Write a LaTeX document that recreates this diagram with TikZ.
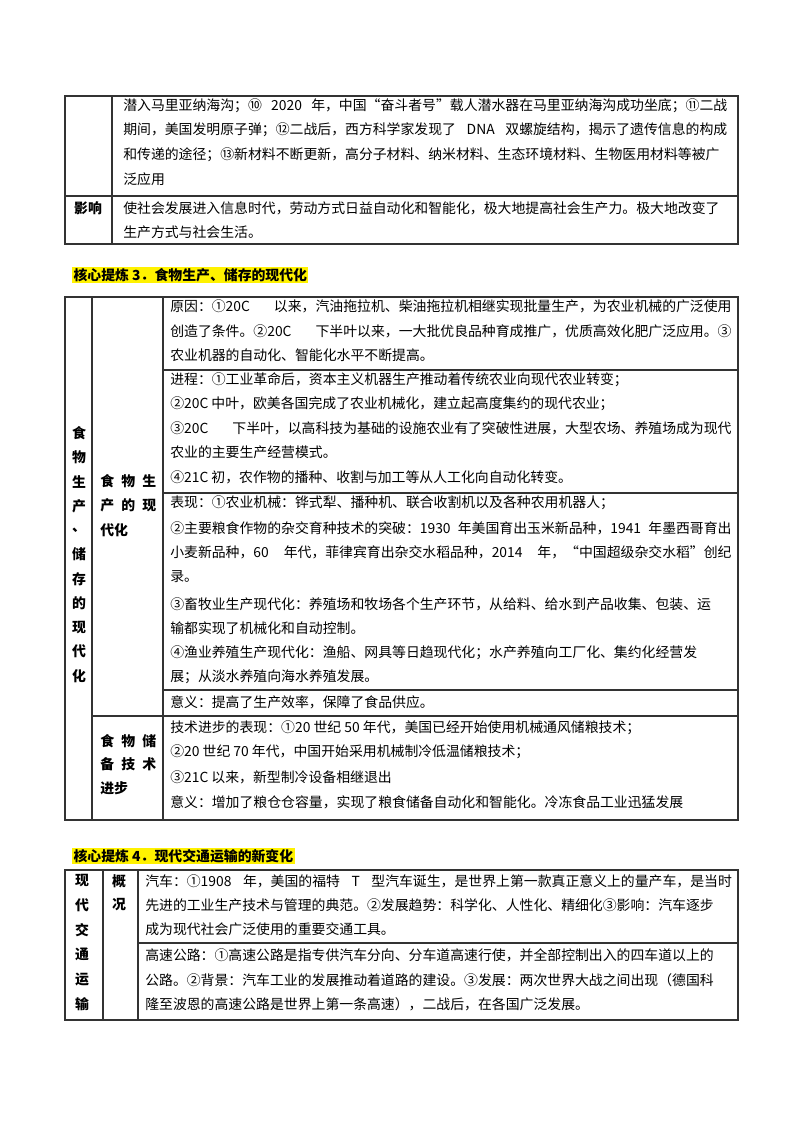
\documentclass[tikz,border=0pt]{standalone}
\usepackage{fontspec}
\setmainfont{Noto Sans CJK SC}
\XeTeXlinebreaklocale "zh"
\XeTeXlinebreakskip=0pt plus 1pt
\hbadness=10000
\newcounter{tn}
\newcommand\Ln[3]{\stepcounter{tn}\node[txt] (t\thetn) at (#1,#2) {#3};}
\newcommand\Jw[4]{\stepcounter{tn}\node[txt] (t\thetn) at (#1,#2) {\hbox to #3{#4}};}
\newcommand\Bc[3]{\stepcounter{tn}\node[bc] (t\thetn) at (#1,#2) {#3};}
\begin{document}
\begin{tikzpicture}[x=0.75pt,y=-0.75pt,
  txt/.style={anchor=west,inner sep=0pt,font=\fontsize{10.4}{12}\selectfont},
  bc/.style={inner sep=0pt,font=\fontsize{10.4}{12}\selectfont\bfseries},
  rule/.style={line width=0.8pt,draw=black!80},
  hl/.style={fill=yellow,inner sep=1pt,anchor=west,font=\fontsize{10.4}{12}\selectfont\bfseries}]
\useasboundingbox[fill=white] (0,0) rectangle (800,1132);
% ---- table 1
\draw[rule] (65,96) rectangle (738,244);
\draw[rule] (112,96) -- (112,244);
\draw[rule] (65,196) -- (738,196);
\Jw{123}{106}{453pt}{潜入马里亚纳海沟；⑩ 2020 年，中国“奋斗者号”载人潜水器在马里亚纳海沟成功坐底；⑪二战}
\Jw{123}{130}{453pt}{期间，美国发明原子弹；⑫二战后，西方科学家发现了 DNA 双螺旋结构，揭示了遗传信息的构成}
\Jw{123}{155}{453pt}{和传递的途径；⑬新材料不断更新，高分子材料、纳米材料、生态环境材料、生物医用材料等被广}
\Ln{123}{179}{泛应用}
\Bc{88}{208}{影响}
\Jw{123}{208}{453pt}{使社会发展进入信息时代，劳动方式日益自动化和智能化，极大地提高社会生产力。极大地改变了}
\Ln{123}{232}{生产方式与社会生活。}
% ---- heading 3
\stepcounter{tn}\node[hl] (h3) at (72,275) {核心提炼\ 3．食物生产、储存的现代化};
% ---- table 2
\draw[rule] (65,297) rectangle (738,820);
\draw[rule] (92,297) -- (92,820);
\draw[rule] (163,297) -- (163,820);
\draw[rule] (163,370) -- (738,370);
\draw[rule] (163,493) -- (738,493);
\draw[rule] (163,690) -- (738,690);
\draw[rule] (92,716) -- (738,716);
\foreach \c [count=\i from 0] in {食,物,生,产,、,储,存,的,现,代,化}
  {\node[bc] (c\i) at (79,433+24.3*\i) {\c};}
\Jw{100}{481}{42pt}{\bfseries 食\hfil 物\hfil 生}
\Jw{100}{505}{42pt}{\bfseries 产\hfil 的\hfil 现}
\Ln{100}{530}{\bfseries 代化}
\Jw{100}{741}{42pt}{\bfseries 食\hfil 物\hfil 储}
\Jw{100}{764}{42pt}{\bfseries 备\hfil 技\hfil 术}
\Ln{100}{788}{\bfseries 进步}
\Jw{170}{306}{421pt}{原因：①20C 以来，汽油拖拉机、柴油拖拉机相继实现批量生产，为农业机械的广泛使用}
\Jw{170}{331}{421pt}{创造了条件。②20C 下半叶以来，一大批优良品种育成推广，优质高效化肥广泛应用。③}
\Ln{170}{355}{农业机器的自动化、智能化水平不断提高。}
\Ln{170}{380}{进程：①工业革命后，资本主义机器生产推动着传统农业向现代农业转变；}
\Ln{170}{404}{②20C 中叶，欧美各国完成了农业机械化，建立起高度集约的现代农业；}
\Jw{170}{428}{421pt}{③20C 下半叶，以高科技为基础的设施农业有了突破性进展，大型农场、养殖场成为现代}
\Ln{170}{452}{农业的主要生产经营模式。}
\Ln{170}{477}{④21C 初，农作物的播种、收割与加工等从人工化向自动化转变。}
\Ln{170}{503}{表现：①农业机械：铧式犁、播种机、联合收割机以及各种农用机器人；}
\Jw{170}{528}{421pt}{②主要粮食作物的杂交育种技术的突破：1930 年美国育出玉米新品种，1941 年墨西哥育出}
\Jw{170}{552}{421pt}{小麦新品种，60 年代，菲律宾育出杂交水稻品种，2014 年，“中国超级杂交水稻”创纪}
\Ln{170}{577}{录。}
\Jw{170}{604}{421pt}{③畜牧业生产现代化：养殖场和牧场各个生产环节，从给料、给水到产品收集、包装、运}
\Ln{170}{628}{输都实现了机械化和自动控制。}
\Jw{170}{653}{421pt}{④渔业养殖生产现代化：渔船、网具等日趋现代化；水产养殖向工厂化、集约化经营发}
\Ln{170}{677}{展；从淡水养殖向海水养殖发展。}
\Ln{170}{702}{意义：提高了生产效率，保障了食品供应。}
\Ln{170}{728}{技术进步的表现：①20 世纪 50 年代，美国已经开始使用机械通风储粮技术；}
\Ln{170}{752}{②20 世纪 70 年代，中国开始采用机械制冷低温储粮技术；}
\Ln{170}{777}{③21C 以来，新型制冷设备相继退出}
\Ln{170}{802}{意义：增加了粮仓仓容量，实现了粮食储备自动化和智能化。冷冻食品工业迅猛发展}
% ---- heading 4
\stepcounter{tn}\node[hl] (h4) at (72,856) {核心提炼\ 4．现代交通运输的新变化};
% ---- table 3
\draw[rule] (65,870) rectangle (738,1020);
\draw[rule] (103,870) -- (103,1020);
\draw[rule] (138,870) -- (138,1020);
\draw[rule] (138,943) -- (738,943);
\foreach \c [count=\i from 0] in {现,代,交,通,运,输}
  {\node[bc] (d\i) at (82,881+24.6*\i) {\c};}
\Bc{119}{881}{概}
\Bc{119}{905}{况}
\Jw{145}{881}{440pt}{汽车：①1908 年，美国的福特 T 型汽车诞生，是世界上第一款真正意义上的量产车，是当时}
\Jw{145}{905}{440pt}{先进的工业生产技术与管理的典范。②发展趋势：科学化、人性化、精细化③影响：汽车逐步}
\Ln{145}{929}{成为现代社会广泛使用的重要交通工具。}
\Jw{145}{955}{440pt}{高速公路：①高速公路是指专供汽车分向、分车道高速行使，并全部控制出入的四车道以上的}
\Jw{145}{980}{440pt}{公路。②背景：汽车工业的发展推动着道路的建设。③发展：两次世界大战之间出现（德国科}
\Ln{145}{1004}{隆至波恩的高速公路是世界上第一条高速），二战后，在各国广泛发展。}
\end{tikzpicture}
\end{document}
